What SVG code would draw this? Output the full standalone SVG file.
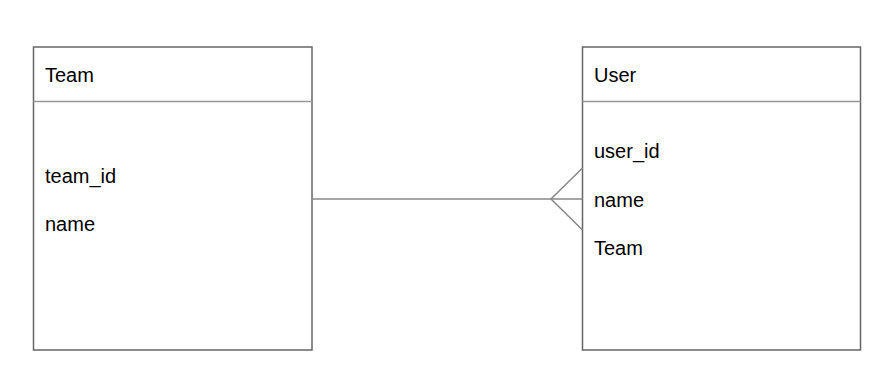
<svg xmlns="http://www.w3.org/2000/svg" width="883" height="387" viewBox="0 0 883 387">
<style>
.box{fill:#fff;stroke:#666;stroke-width:1.5}
.div{stroke:#999;stroke-width:1.5}
.t{font-family:"Liberation Sans",Arial,sans-serif;font-size:20px;fill:#000}
.c{stroke:#888;stroke-width:1.5;fill:none}
</style>
<rect width="883" height="387" fill="#fff"/>
<g id="team">
<rect class="box" x="33.5" y="47" width="278.5" height="303"/>
<line class="div" x1="33.5" y1="101.5" x2="312" y2="101.5"/>
<text class="t" x="45" y="82">Team</text>
<text class="t" x="45" y="183">team_id</text>
<text class="t" x="45" y="231">name</text>
</g>
<g id="user">
<rect class="box" x="582.5" y="47" width="278" height="303"/>
<line class="div" x1="582.5" y1="101.5" x2="860.5" y2="101.5"/>
<text class="t" x="594" y="82">User</text>
<text class="t" x="594" y="158">user_id</text>
<text class="t" x="594" y="207">name</text>
<text class="t" x="594" y="255">Team</text>
</g>
<g id="connectors">
<line class="c" x1="312" y1="199" x2="582.5" y2="199"/>
<path class="c" d="M582.5 168 L551 199 L582.5 230"/>
</g>
</svg>
